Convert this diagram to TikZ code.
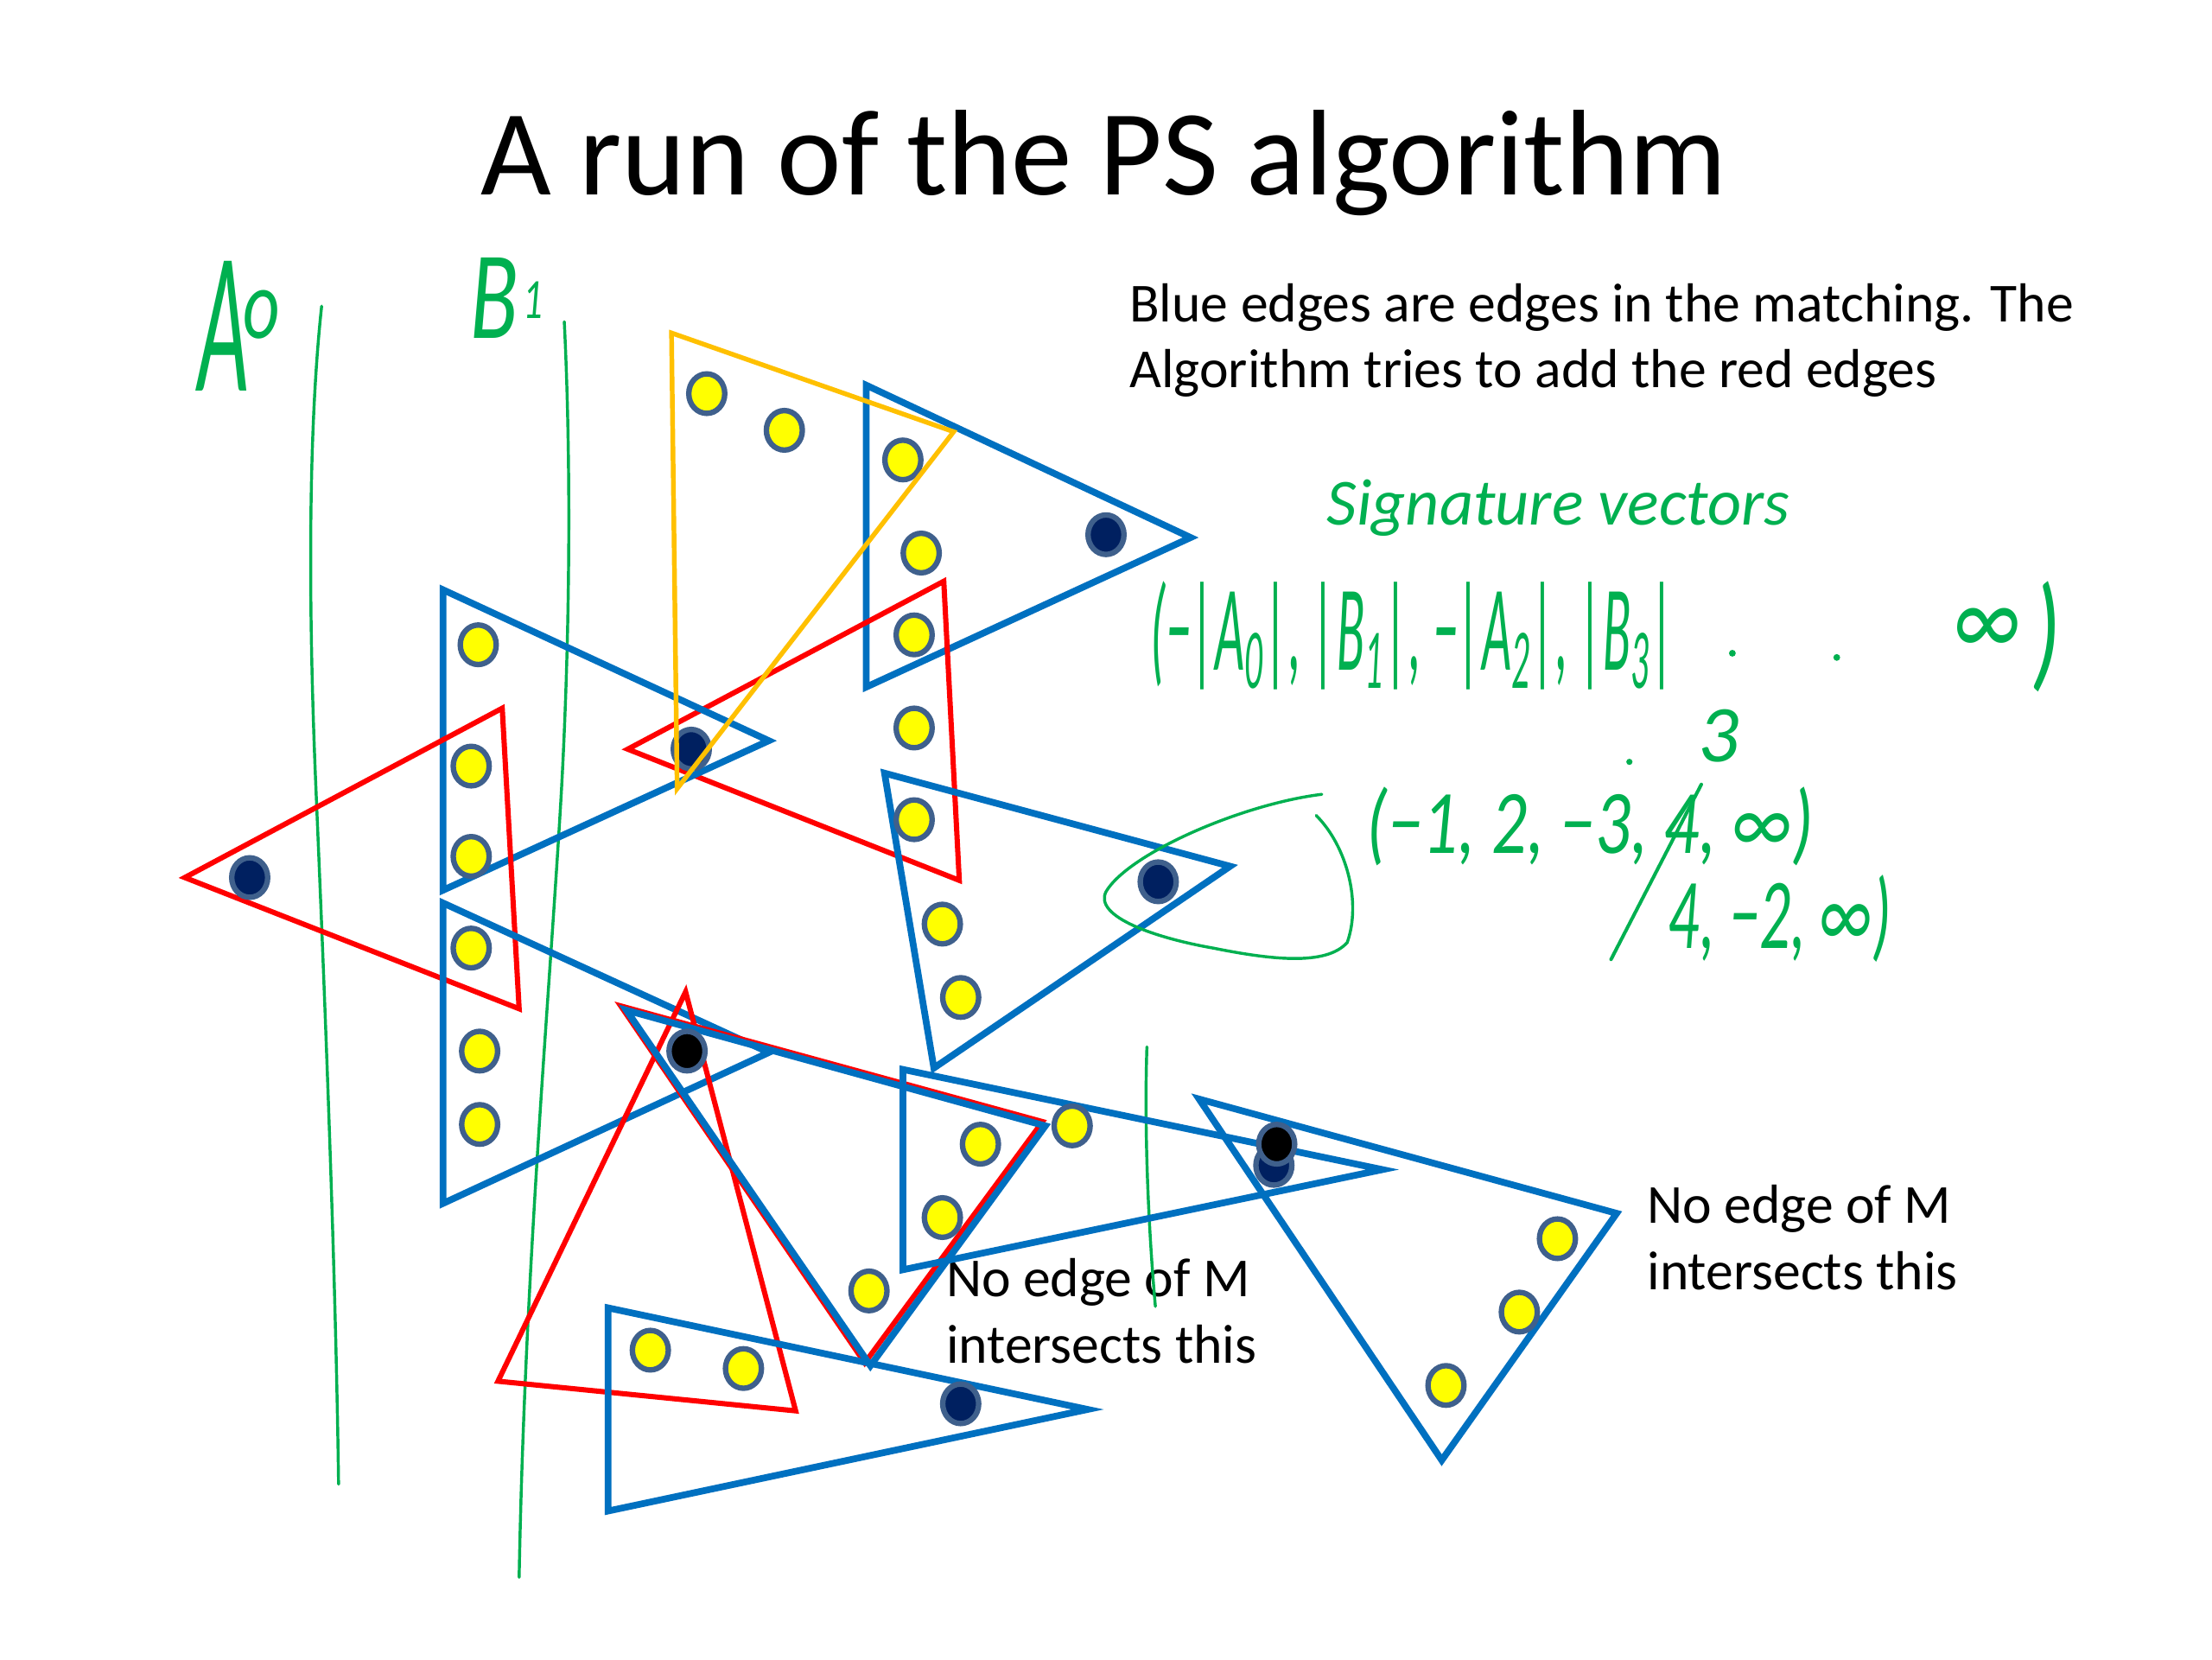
\documentclass[tikz,border=0pt]{standalone}
\usepackage{fontspec}
\setmainfont{Carlito}
\usepackage{graphicx}
\usetikzlibrary{shapes.geometric}
\definecolor{cblue}{RGB}{0,112,192}
\definecolor{cred}{RGB}{255,0,0}
\definecolor{corange}{RGB}{255,192,0}
\definecolor{cgreen}{RGB}{0,176,80}
\definecolor{cnavy}{RGB}{0,32,96}
\definecolor{cring}{RGB}{63,96,140}
\definecolor{cyel}{RGB}{255,255,0}
\tikzset{
  bl/.style={draw=cblue, line width=1.35pt, line join=miter},
  rd/.style={draw=cred, line width=1.05pt, line join=miter},
  og/.style={draw=corange, line width=0.95pt, line join=miter},
  gr/.style={draw=cgreen, line width=0.6pt, line cap=round},
  grt/.style={text=cgreen, inner sep=0pt, font=\itshape},
  dotbase/.style={ellipse, draw=cring, line width=1.1pt, minimum width=2.55mm, minimum height=2.8mm, inner sep=0pt},
  ydot/.style={dotbase, fill=cyel},
  ndot/.style={dotbase, fill=cnavy},
  kdot/.style={dotbase, fill=black},
  body/.style={inner sep=0pt, font=\fontsize{11.1pt}{13.4pt}\selectfont}
}
\begin{document}
\begin{tikzpicture}[x=0.1mm,y=-0.1mm]
\useasboundingbox (0,0) rectangle (1568,1176);
\fill[white] (0,0) rectangle (1568,1176);

% title and texts
\node[inner sep=0pt, anchor=base, font=\fontsize{24.6pt}{28pt}\selectfont] (title) at (782.5,138) {A run of the PS algorithm};
\node[body, anchor=base west] (info1) at (800,228) {Blue edges are edges in the matching. The};
\node[body, anchor=base west] (info2) at (800,275) {Algorithm tries to add the red edges};
\node[body, anchor=base west] (noA1) at (670,919) {No edge of M};
\node[body, anchor=base west] (noA2) at (670,966) {intersects this};
\node[body, anchor=base west] (noB1) at (1167,867) {No edge of M};
\node[body, anchor=base west] (noB2) at (1167,914) {intersects this};

% green separator lines
\draw[gr] (228,217) .. controls (219,300) and (218,420) .. (224,560) .. controls (230,700) and (238,900) .. (240,1052);
\draw[gr] (400,228) .. controls (405,330) and (404,450) .. (398,560) .. controls (390,700) and (372,900) .. (368,1118);
\draw[gr] (813,742) .. controls (811,800) and (814,870) .. (819,926);

% triangles
\draw[bl] (614,273) -- (844,381) -- (614,487) -- cycle;
\draw[rd] (445,531) -- (669,412) -- (680,624) -- cycle;
\draw[bl] (314,418) -- (545,525) -- (314,631) -- cycle;
\draw[rd] (131,622) -- (356,502) -- (368,715) -- cycle;
\draw[bl] (314,640) -- (545,746) -- (314,853) -- cycle;
\draw[bl] (627,548) -- (872,614) -- (662,757) -- cycle;
\draw[rd] (486,703) -- (353,979) -- (564,1000) -- cycle;
\draw[rd] (440,713) -- (739,795) -- (613,966) -- cycle;
\draw[bl] (444,716) -- (741,798) -- (617,968) -- cycle;
\draw[bl] (640,758) -- (980,829) -- (640,900) -- cycle;
\draw[bl] (850,779) -- (1146,860) -- (1022,1035) -- cycle;
\draw[bl] (431,927) -- (771,999) -- (431,1071) -- cycle;

% dots
\node[ydot] (y1) at (501,279) {};
\node[ydot] (y2) at (556,305) {};
\node[ydot] (y3) at (640,326) {};
\node[ydot] (y4) at (653,392) {};
\node[ydot] (y5) at (648,450) {};
\node[ydot] (y6) at (648,516) {};
\node[ydot] (y7) at (648,581) {};
\node[ydot] (y8) at (339,457) {};
\node[ydot] (y9) at (334,543) {};
\node[ydot] (y10) at (334,607) {};
\node[ydot] (y11) at (334,672) {};
\node[ydot] (y12) at (340,745) {};
\node[ydot] (y13) at (340,797) {};
\node[ydot] (y14) at (668,655) {};
\node[ydot] (y15) at (681,707) {};
\node[ydot] (y16) at (695,811) {};
\node[ydot] (y17) at (668,863) {};
\node[ydot] (y18) at (760,798) {};
\node[ydot] (y19) at (616,915) {};
\node[ydot] (y20) at (461,957) {};
\node[ydot] (y21) at (527,970) {};
\node[ydot] (y22) at (1104,878) {};
\node[ydot] (y23) at (1077,930) {};
\node[ydot] (y24) at (1025,982) {};
\node[ndot] (n1) at (784,379) {};
\node[ndot] (n2) at (490,531) {};
\node[ndot] (n3) at (177,622) {};
\node[ndot] (n4) at (821,625) {};
\node[ndot] (n5) at (681,995) {};
\node[ndot] (n6) at (903,826) {};
\node[kdot] (k1) at (487,745) {};
\node[kdot] (k2) at (905,811) {};

% orange triangle (drawn over the dot)
\draw[og] (476,236) -- (676,306) -- (480,559) -- cycle;

% handwritten green annotations
\node[grt, anchor=base west] (labA) at (140,277) {\resizebox{3.6mm}{9.2mm}{A}};
\node[grt, anchor=base west] (labAo) at (172,240) {\resizebox{2.6mm}{3.4mm}{o}};
\node[grt, anchor=base west] (labB) at (333,240) {\resizebox{3.4mm}{5.7mm}{B}};
\node[grt, anchor=base west] (labB1) at (370,226) {\resizebox{1.4mm}{2.6mm}{1}};
\node[grt, anchor=base west] (sig) at (940,372) {\resizebox{32.8mm}{!}{Signature vectors}};
\node[grt, anchor=base west] (vec) at (815,475) {\resizebox{37.2mm}{6.3mm}{(−|A\textsubscript{0}|, |B\textsubscript{1}|, −|A\textsubscript{2}|, |B\textsubscript{3}|}};
\fill[cgreen] (1228,463) circle (2.4);
\fill[cgreen] (1302,466) circle (2.4);
\node[grt, anchor=base west] (vecinf) at (1385,465) {\resizebox{4.7mm}{3.4mm}{∞}};
\node[grt, anchor=base west] (vecend) at (1440,478) {\resizebox{2mm}{6.6mm}{)}};
\node[grt, anchor=base west] (three) at (1203,540) {\resizebox{!}{3.7mm}{3}};
\fill[cgreen] (1155,540) circle (2.2);
\node[grt, anchor=base west] (vecA) at (968,605) {\resizebox{31.7mm}{4.7mm}{(−1, 2, −3, 4, ∞)}};
\node[grt, anchor=base west] (vecB) at (1182,672) {\resizebox{15.8mm}{5.2mm}{4, −2, ∞)}};
\draw[gr, line width=0.7pt] (1142,680) -- (1206,556);
\draw[gr] (937,563) .. controls (880,570) and (800,605) .. (784,632)
  .. controls (775,650) and (820,665) .. (860,672)
  .. controls (900,680) and (940,685) .. (955,668)
  .. controls (965,640) and (955,600) .. (933,578);
\end{tikzpicture}
\end{document}
